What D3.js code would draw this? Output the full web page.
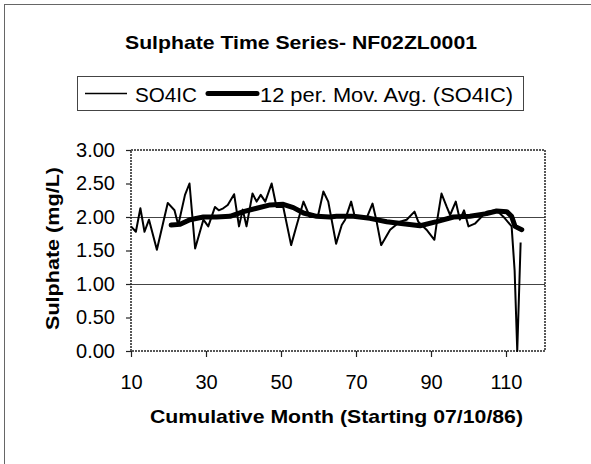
<!DOCTYPE html>
<html>
<head>
  <title>Sulphate Time Series</title>
  <style>
    body { margin: 0; background: #fff; }
    text { font-family: "Liberation Sans", Arial, sans-serif; fill: #000; }
  </style>
</head>
<body>
  <script src="https://cdn.jsdelivr.net/npm/d3@7"></script>
  <script>
    // data (cumulative month, mg/L)
    var so4Month = [10, 11.3, 12.5, 13.6, 14.8, 16.9, 19.8, 21.6, 22.6, 24.4, 25.6, 27.1, 29.3, 30.6, 32.4, 33.4, 34.6, 35.8, 37.5, 38.8,
      39.8, 40.8, 42.4, 43.5, 44.6, 45.8, 47.5, 48.8, 50.6, 52.7, 54.2, 56.0, 57.7, 59.8, 61.3, 62.6, 64.7, 66.2, 67.1, 68.7,
      69.7, 72.8, 74.4, 75.4, 76.7, 79.1, 81.7, 83.5, 85.6, 86.6, 88.8, 90.9, 91.5, 92.8, 94.2, 95.1, 96.6, 97.7, 98.8, 100.0,
      101.7, 104.8, 107.5, 109.7, 111.5, 112.3, 113.0, 113.9];
    var so4Value = [1.86, 1.78, 2.13, 1.78, 1.96, 1.51, 2.21, 2.10, 1.88, 2.33, 2.50, 1.53, 1.96, 1.86, 2.15, 2.10, 2.13, 2.18, 2.34, 1.86,
      2.11, 1.86, 2.35, 2.23, 2.33, 2.23, 2.50, 2.15, 2.15, 1.58, 1.88, 2.23, 2.00, 2.00, 2.38, 2.23, 1.60, 1.88, 1.96, 2.23,
      2.00, 1.98, 2.20, 1.96, 1.58, 1.81, 1.93, 1.96, 2.08, 1.93, 1.81, 1.66, 1.90, 2.35, 2.15, 2.03, 2.23, 1.96, 2.10, 1.86,
      1.90, 2.08, 2.10, 1.98, 1.86, 1.20, 0.00, 1.62];

    var avgMonth = [20.7, 23.1, 25.7, 29.3, 32.8, 36.4, 40.0, 43.5, 47.1, 50.6, 53.3, 56.0, 59.5, 63.0, 64.8, 69.3, 73.7, 78.2, 82.6,
      87.1, 91.5, 96.0, 100.4, 104.8, 107.5, 110.2, 111.5, 112.4, 114.2];
    var avgValue = [1.88, 1.89, 1.96, 2.00, 2.00, 2.01, 2.08, 2.13, 2.18, 2.19, 2.14, 2.06, 2.01, 2.00, 2.01, 2.01, 1.98, 1.93, 1.90,
      1.87, 1.93, 2.00, 2.01, 2.05, 2.09, 2.08, 2.01, 1.86, 1.81];

    var xTicks = [10, 30, 50, 70, 90, 110];
    var yTicks = [0, 0.5, 1, 1.5, 2, 2.5, 3];
    var gridValues = [1, 2];

    var width = 591, height = 464;
    var margin = {top: 150, right: 46, bottom: 113, left: 131};

    var svg = d3.select("body").append("svg")
      .attr("width", width)
      .attr("height", height);

    svg.append("rect").attr("width", width).attr("height", height).attr("fill", "#fff");

    // outer chart frame (runs off right and bottom of the scan)
    svg.append("rect")
      .attr("x", 4.5).attr("y", 4.5)
      .attr("width", 620).attr("height", 620)
      .attr("fill", "none").attr("stroke", "#666").attr("stroke-width", 1);

    var xScale = d3.scaleLinear().domain([10, 120.4]).range([margin.left, width - margin.right]);
    var yScale = d3.scaleLinear().domain([0, 3]).range([height - margin.bottom, margin.top]);

    // gridlines
    svg.append("g").selectAll("line")
      .data(gridValues)
      .enter().append("line")
      .attr("x1", xScale(10)).attr("x2", xScale(120.4))
      .attr("y1", function(d) { return yScale(d) + 0.5; })
      .attr("y2", function(d) { return yScale(d) + 0.5; })
      .attr("stroke", "#444").attr("stroke-width", 1);

    // plot area border, dotted
    svg.append("rect")
      .attr("x", xScale(10)).attr("y", yScale(3))
      .attr("width", xScale(120.4) - xScale(10))
      .attr("height", yScale(0) - yScale(3))
      .attr("fill", "none").attr("stroke", "#222")
      .attr("stroke-width", 1.5).attr("stroke-dasharray", "2,1");

    // axes
    var yAxis = svg.append("g")
      .attr("transform", "translate(" + margin.left + ",0)")
      .call(d3.axisLeft(yScale).tickValues(yTicks).tickFormat(d3.format(".2f")).tickSize(5).tickPadding(11));
    var xAxis = svg.append("g")
      .attr("transform", "translate(0," + (height - margin.bottom) + ")")
      .call(d3.axisBottom(xScale).tickValues(xTicks).tickFormat(d3.format("d")).tickSize(6).tickPadding(18));

    [xAxis, yAxis].forEach(function(ax) {
      ax.select(".domain").remove();
      ax.selectAll("line").attr("stroke", "#222").attr("stroke-width", 1.2);
      ax.selectAll("text").attr("font-size", 20).attr("font-family", "Liberation Sans, Arial, sans-serif").attr("fill", "#000");
    });

    // series
    var so4Data = so4Month.map(function(m, i) { return {m: m, v: so4Value[i]}; });
    var avgData = avgMonth.map(function(m, i) { return {m: m, v: avgValue[i]}; });

    var line = d3.line()
      .x(function(d) { return xScale(d.m); })
      .y(function(d) { return yScale(d.v); });

    svg.append("path")
      .attr("d", line(so4Data))
      .attr("fill", "none").attr("stroke", "#000")
      .attr("stroke-width", 2).attr("stroke-linejoin", "round");

    svg.append("path")
      .attr("d", line(avgData))
      .attr("fill", "none").attr("stroke", "#000")
      .attr("stroke-width", 5).attr("stroke-linejoin", "round").attr("stroke-linecap", "round");

    // title (scan is a bit wide, so stretch text to the measured widths)
    svg.append("text")
      .attr("x", 125).attr("y", 49)
      .attr("font-size", 19).attr("font-weight", "bold")
      .attr("textLength", 352).attr("lengthAdjust", "spacingAndGlyphs")
      .text("Sulphate Time Series- NF02ZL0001");

    // legend
    var legend = svg.append("g");
    legend.append("rect")
      .attr("x", 77.5).attr("y", 76.5).attr("width", 446).attr("height", 34)
      .attr("fill", "none").attr("stroke", "#444").attr("stroke-width", 1);
    legend.append("line")
      .attr("x1", 85).attr("x2", 127).attr("y1", 93.5).attr("y2", 93.5)
      .attr("stroke", "#000").attr("stroke-width", 1.5);
    legend.append("text")
      .attr("x", 135).attr("y", 102)
      .attr("font-size", 20)
      .attr("textLength", 62).attr("lengthAdjust", "spacingAndGlyphs")
      .text("SO4IC");
    legend.append("line")
      .attr("x1", 208).attr("x2", 257).attr("y1", 93.5).attr("y2", 93.5)
      .attr("stroke", "#000").attr("stroke-width", 5).attr("stroke-linecap", "round");
    legend.append("text")
      .attr("x", 260).attr("y", 102)
      .attr("font-size", 20)
      .attr("textLength", 253).attr("lengthAdjust", "spacingAndGlyphs")
      .text("12 per. Mov. Avg. (SO4IC)");

    // axis titles
    svg.append("text")
      .attr("x", 150).attr("y", 423)
      .attr("font-size", 19).attr("font-weight", "bold")
      .attr("textLength", 373).attr("lengthAdjust", "spacingAndGlyphs")
      .text("Cumulative Month (Starting 07/10/86)");

    svg.append("text")
      .attr("transform", "translate(59,330)rotate(-90)")
      .attr("font-size", 18).attr("font-weight", "bold")
      .attr("textLength", 163).attr("lengthAdjust", "spacingAndGlyphs")
      .text("Sulphate (mg/L)");
  </script>
</body>
</html>
